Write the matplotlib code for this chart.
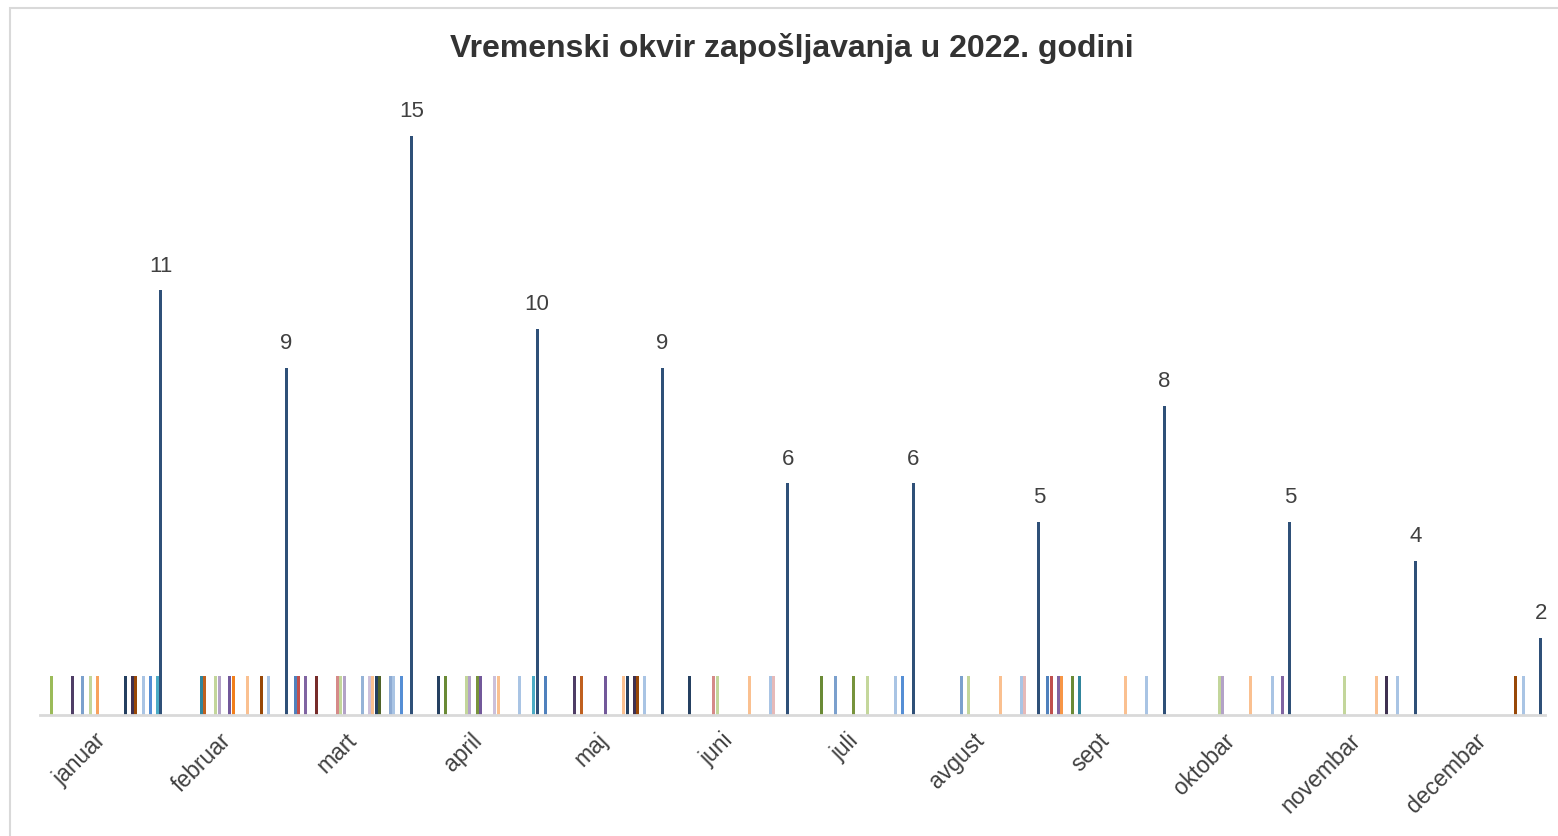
import numpy as np
import matplotlib
matplotlib.use("Agg")
from matplotlib import pyplot as plt
from matplotlib.patches import Rectangle

plt.rcParams['font.family'] = ['Liberation Sans', 'DejaVu Sans']

# Mjeseci i ukupan broj zaposlenih po mjesecu
mjeseci = ['januar', 'februar', 'mart', 'april', 'maj', 'juni', 'juli',
           'avgust', 'sept', 'oktobar', 'novembar', 'decembar']
ukupno = [11, 9, 15, 10, 9, 6, 6, 5, 8, 5, 4, 2]

# Serije (redni broj zaposlenja) koje imaju vrijednost 1 u datom mjesecu
zaposleni_jan = [2, 8, 11, 13, 15, 23, 25, 26, 28, 30, 32]
zaposleni_feb = [9, 10, 13, 14, 17, 18, 22, 26, 28]
zaposleni_mar = [0, 1, 3, 6, 12, 13, 14, 19, 21, 22, 23, 24, 27, 28, 30]
zaposleni_apr = [5, 7, 13, 14, 16, 17, 21, 22, 28, 32]
zaposleni_maj = [0, 8, 10, 17, 22, 23, 25, 26, 28]
zaposleni_jun = [5, 12, 13, 22, 28, 29]
zaposleni_jul = [7, 11, 16, 20, 28, 30]
zaposleni_avg = [11, 13, 22, 28, 29]
zaposleni_sep = [0, 1, 3, 4, 7, 9, 22, 28]
zaposleni_okt = [13, 14, 22, 28, 31]
zaposleni_nov = [13, 22, 25, 28]
zaposleni_dec = [26, 28]

# Boje serija (Excel paleta)
boje = ['#4F81BD', '#C0504D', '#9BBB59', '#8064A2', '#F79646', '#254061',
        '#772C2A', '#6A8A35', '#4F3D66', '#31859C', '#C0601F', '#7BA0CD',
        '#D58A88', '#C3D69B', '#B3A2C7', '#F8A25E', '#77933C', '#72589A',
        '#F27F1B', '#95B3D7', '#C4D79B', '#CCC0DA', '#FAC090', '#243F60',
        '#4F6228', '#3F3151', '#984807', '#8EABD3', '#A9C4E4', '#E6B9B8',
        '#558ED5', '#8064A2', '#4BACC6', '#2F5078']

po_mjesecu = [zaposleni_jan, zaposleni_feb, zaposleni_mar, zaposleni_apr,
              zaposleni_maj, zaposleni_jun, zaposleni_jul, zaposleni_avg,
              zaposleni_sep, zaposleni_okt, zaposleni_nov, zaposleni_dec]

n_serija = 34          # 33 zaposlenja + ukupno
gap = 1.5              # Excel gap width 150%
slot = 1.0 / (n_serija + gap)

# Matrica vrijednosti: serija x mjesec
vrijednosti = np.zeros((n_serija, len(mjeseci)))
for m, lista in enumerate(po_mjesecu):
    for s in lista:
        vrijednosti[s, m] = 1
vrijednosti[-1] = ukupno

fig = plt.figure(figsize=(15.58, 8.36), dpi=100)
ax = fig.add_axes([39.7 / 1558, 121 / 836, 1505.4 / 1558, 617.6 / 836])

x = np.arange(len(mjeseci))
for s in range(n_serija):
    pos = x + (gap / 2 + s + 0.5) * slot
    ax.bar(pos, vrijednosti[s], width=slot * 0.85, color=boje[s],
           align='center', zorder=2)
    if s == n_serija - 1:
        for xi, v in zip(pos, vrijednosti[s]):
            ax.annotate(f"{int(v)}", (xi, v), xytext=(0, 17.5),
                        textcoords='offset points', ha='center', va='center',
                        fontsize=16, color='#404040')

ax.set_xlim(0, len(mjeseci))
ax.set_ylim(0, 16)
ax.set_yticks([])
ax.set_xticks(x + 0.5)
ax.set_xticklabels(mjeseci, rotation=45, ha='right', va='center',
                   rotation_mode='anchor', fontsize=16.5, color='#404040')
ax.tick_params(axis='x', length=0, pad=16)

for side in ['top', 'left', 'right']:
    ax.spines[side].set_visible(False)
ax.spines['bottom'].set_color('#D9D9D9')
ax.spines['bottom'].set_linewidth(2)

fig.text(792 / 1558, 1 - 48 / 836, 'Vremenski okvir zapošljavanja u 2022. godini',
         ha='center', va='center', fontsize=23, fontweight='bold', color='#333333')

# okvir grafikona
fig.patches.append(Rectangle((10 / 1558, -0.1), 1.2, 1.1 - 8 / 836,
                             transform=fig.transFigure, fill=False,
                             edgecolor='#D9D9D9', linewidth=1.5))

fig.savefig('out.png', dpi=100)
